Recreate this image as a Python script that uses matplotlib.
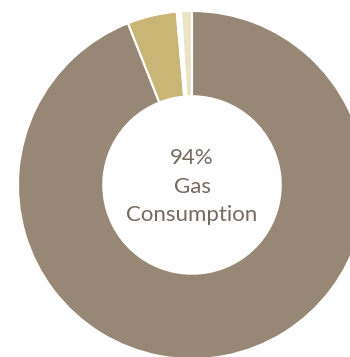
import matplotlib
matplotlib.use('Agg')
import matplotlib.pyplot as plt

# slice data (clockwise from 12 o'clock)
labels = ['Gas', 'Other', 'Gap', 'Minor']
shares = [94.0, 4.6, 0.4, 1.0]
colors = ['#968874', '#c9b677', '#ffffff', '#ebe3c6']
center_lines = ['94%', 'Gas', 'Consumption']

fig = plt.figure(figsize=(3.5, 3.57), dpi=100)
# donut centre at ~(192, 185) px, outer radius ~174 px
cx, cy, r = 192, 185, 174
W, H = 350, 357
ax = fig.add_axes([(cx - r) / W, (H - cy - r) / H, 2 * r / W, 2 * r / H])

ax.pie(shares, colors=colors, startangle=90, counterclock=False, radius=1,
       wedgeprops=dict(width=0.49, edgecolor='white', linewidth=1.5))
ax.set_xlim(-1, 1)
ax.set_ylim(-1, 1)
ax.axis('off')

ys = [0.155, -0.011, -0.17]
for txt, y in zip(center_lines, ys):
    ax.text(0, y, txt, ha='center', va='center', fontsize=16,
            color='#76695f', family='Lato')

fig.savefig('out.png', dpi=100)
